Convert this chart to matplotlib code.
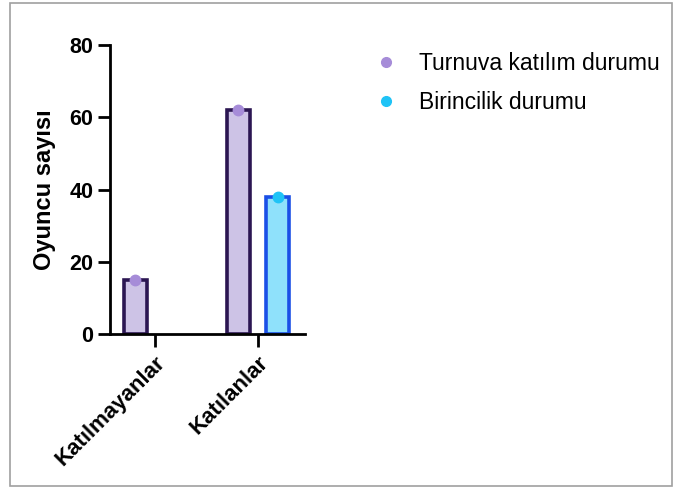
import matplotlib
matplotlib.use("Agg")
import matplotlib.pyplot as plt
from matplotlib.lines import Line2D
from matplotlib.patches import Rectangle
import numpy as np

plt.rcParams['font.family'] = ['Liberation Sans', 'DejaVu Sans']

categories = ["Katılmayanlar", "Katılanlar"]
series_names = ["Turnuva katılım durumu", "Birincilik durumu"]
participation = [15, 62]
first_place = [np.nan, 38]
yticks = [0, 20, 40, 60, 80]
ylabel = "Oyuncu sayısı"

fill_colors = ["#cdc3e6", "#8fe1fb"]
edge_colors = ["#2b1652", "#1a4fe6"]
dot_colors = ["#a68cd8", "#1fc3f6"]

W, H = 675, 488
fig = plt.figure(figsize=(W / 100, H / 100), dpi=100)
ax = fig.add_axes([110 / W, 1 - 334 / H, (305 - 110) / W, (334 - 45) / H])

x = np.arange(len(categories))
offset = 0.19
width = 0.218
all_series = [participation, first_place]
for i, vals in enumerate(all_series):
    xs = x + (i * 2 - 1) * offset
    v = np.array(vals, dtype=float)
    ok = ~np.isnan(v)
    ax.bar(xs[ok], v[ok], width=width, color=fill_colors[i],
           edgecolor=edge_colors[i], linewidth=2.6, zorder=2)
    ax.plot(xs[ok], v[ok], 'o', color=dot_colors[i], markersize=7.5,
            zorder=3, clip_on=False)

ax.set_xlim(-0.437, 1.456)
ax.set_ylim(0, 80)
ax.set_yticks(yticks)
ax.set_yticklabels([str(t) for t in yticks], fontsize=15.5, fontweight='bold')
ax.set_xticks(x)
ax.set_xticklabels(categories, rotation=45, ha='right', rotation_mode='anchor',
                   fontsize=16, fontweight='bold')
ax.set_ylabel(ylabel, fontsize=17, fontweight='bold')
ax.yaxis.set_label_coords(-0.275, 0.5)

for s in ['top', 'right']:
    ax.spines[s].set_visible(False)
for s in ['left', 'bottom']:
    ax.spines[s].set_linewidth(2.0)
    ax.spines[s].set_color('black')
ax.tick_params(axis='both', width=2.0, length=9, color='black')
ax.tick_params(axis='y', pad=3)
ax.tick_params(axis='x', pad=4)

handles = [Line2D([], [], marker='o', linestyle='none', color=dot_colors[i],
                  markersize=7) for i in range(2)]
fig.legend(handles, series_names, loc='upper left',
           bbox_to_anchor=(365 / W, 1 - 43 / H), frameon=False,
           fontsize=16.5, handletextpad=0.94, labelspacing=0.7,
           handlelength=1.0, borderaxespad=0)

fig.patches.append(Rectangle((10 / W, 1 - 486 / H), (672 - 10) / W, (486 - 2.5) / H,
                             transform=fig.transFigure, fill=False,
                             edgecolor='#a0a0a0', linewidth=1.2))

fig.savefig("out.png", dpi=100)
